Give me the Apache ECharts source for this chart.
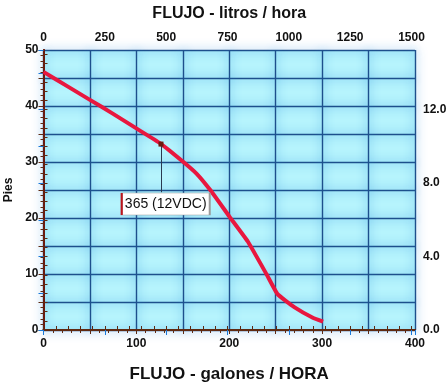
<!DOCTYPE html>
<html><head><meta charset="utf-8">
<script src="https://cdn.jsdelivr.net/npm/echarts@6/dist/echarts.min.js"></script>
<style>html,body{margin:0;padding:0;background:#fff}#c{width:448px;height:385px}</style>
</head><body><div id="c"></div>
<script>
// Pump curve data
const gallonsPerHour = [0, 25, 50, 75, 100, 126, 150, 165, 180, 200, 220, 240, 252, 270, 290, 301];
const feetHead       = [46.1, 43.6, 41.1, 38.6, 36.0, 33.3, 30.1, 27.9, 24.9, 20.3, 15.8, 10.0, 6.4, 4.1, 2.2, 1.5];

// Tick labels
const bottomTickLabels = [0, 100, 200, 300, 400];
const topTickLabels = [0, 250, 500, 750, 1000, 1250, 1500];
const leftTickLabels = [0, 10, 20, 30, 40, 50];
const rightTickLabels = ['0.0', '4.0', '8.0', '12.0'];

// Annotation
const annotationText = '365 (12VDC)';
const annotationPoint = [126.5, 33.2];
const annotationBox = [131.6, 22.5];
const leaderEnd = [126.5, 24.6];

const GAL_MAX = 400, FT_MAX = 50;
const L_PER_GAL = 3.78541, M_PER_FT = 0.3048;

const FONT = "'Liberation Sans', Arial, sans-serif";
const BROWN = '#5e2a12';
const GRIDLINE = {color: '#1d4f8c', width: 1.4, shadowBlur: 10, shadowColor: 'rgba(30,135,220,0.85)'};
const lblStyle = {color: '#111', fontWeight: 'bold', fontSize: 12, fontFamily: FONT};

const chart = echarts.init(document.getElementById('c'), null, {renderer: 'canvas'});
chart.setOption({
  animation: false,
  grid: {left: 43.5, right: 33, top: 50, bottom: 55, show: true, backgroundColor: '#b6f4fd', borderWidth: 0,
         containLabel: false, outerBoundsMode: 'none'},
  xAxis: [
    {type: 'value', position: 'bottom', min: 0, max: GAL_MAX, interval: 50,
     name: 'FLUJO - galones / HORA', nameLocation: 'middle', nameGap: 36,
     nameTextStyle: {color: '#111', fontWeight: 'bold', fontSize: 17, fontFamily: FONT},
     axisLine: {show: true, lineStyle: {color: '#7a1410', width: 2}},
     axisTick: {show: true, length: 4, lineStyle: {color: BROWN}},
     minorTick: {show: true, splitNumber: 5, length: 3, lineStyle: {color: BROWN}},
     axisLabel: Object.assign({margin: 8, formatter: v => bottomTickLabels.includes(v) ? String(v) : ''}, lblStyle),
     splitLine: {show: true, lineStyle: GRIDLINE}},
    {type: 'value', position: 'top', min: 0, max: GAL_MAX * L_PER_GAL, interval: 50,
     name: 'FLUJO - litros / hora', nameLocation: 'middle', nameGap: 28,
     nameTextStyle: {color: '#111', fontWeight: 'bold', fontSize: 16, fontFamily: FONT},
     axisLine: {show: true, lineStyle: {color: BROWN, width: 2}},
     axisTick: {show: true, length: 4, lineStyle: {color: BROWN}},
     axisLabel: Object.assign({margin: 6, showMaxLabel: false, formatter: v => topTickLabels.includes(v) ? String(v) : ''}, lblStyle),
     splitLine: {show: false}},
    {type: 'value', position: 'top', min: 0, max: GAL_MAX * L_PER_GAL, interval: 250,
     axisLine: {show: false}, axisLabel: {show: false}, splitLine: {show: false},
     axisTick: {show: true, inside: true, length: 5, lineStyle: {color: '#1a78d8', width: 1}}}
  ],
  yAxis: [
    {type: 'value', position: 'left', min: 0, max: FT_MAX, interval: 5,
     name: 'Pies', nameLocation: 'middle', nameGap: 24, nameRotate: 90,
     nameTextStyle: {color: '#111', fontWeight: 'bold', fontSize: 12, fontFamily: FONT},
     axisLine: {show: true, lineStyle: {color: BROWN, width: 2}},
     axisTick: {show: true, length: 5, lineStyle: {color: BROWN}},
     minorTick: {show: true, splitNumber: 5, length: 3, lineStyle: {color: BROWN}},
     axisLabel: Object.assign({margin: 5, formatter: v => leftTickLabels.includes(v) ? String(v) : ''}, lblStyle),
     splitLine: {show: true, lineStyle: GRIDLINE}},
    {type: 'value', position: 'right', min: 0, max: FT_MAX * M_PER_FT, interval: 0.5,
     axisLine: {show: true, lineStyle: {color: '#6a1a10', width: 2}},
     axisTick: {show: true, length: 4, lineStyle: {color: BROWN}},
     axisLabel: Object.assign({margin: 8, showMaxLabel: false, formatter: v => rightTickLabels.includes(v.toFixed(1)) ? v.toFixed(1) : ''}, lblStyle),
     splitLine: {show: false}},
    {type: 'value', position: 'right', min: 0, max: FT_MAX * M_PER_FT, interval: 2,
     axisLine: {show: false}, axisLabel: {show: false}, splitLine: {show: false},
     axisTick: {show: true, inside: true, length: 5, lineStyle: {color: '#1a78d8', width: 1}}}
  ],
  series: [{
    type: 'line', xAxisIndex: 0, yAxisIndex: 0,
    data: gallonsPerHour.map((g, i) => [g, feetHead[i]]),
    smooth: 0.12, symbol: 'none',
    lineStyle: {color: '#e8173f', width: 4},
    markLine: {silent: true, symbol: 'none', label: {show: false},
      lineStyle: {color: '#2a3a50', width: 1, type: 'solid'},
      data: [[{coord: annotationPoint}, {coord: leaderEnd}]]},
    markPoint: {silent: true, data: [
      {coord: annotationPoint, symbol: 'rect', symbolSize: 5, itemStyle: {color: '#6b1a10'}, label: {show: false}},
      {coord: annotationBox, symbol: 'rect', symbolSize: [88, 22],
       itemStyle: {color: '#ffffff', borderColor: '#9a9a9a', borderWidth: 1},
       label: {show: true, position: 'inside', formatter: annotationText, color: '#111', fontSize: 14, fontFamily: FONT}},
      {coord: annotationBox, symbol: 'rect', symbolSize: [2, 22], symbolOffset: [-44, 0],
       itemStyle: {color: '#c0141c'}, label: {show: false}}
    ]}
  }]
});
</script>
</body></html>
